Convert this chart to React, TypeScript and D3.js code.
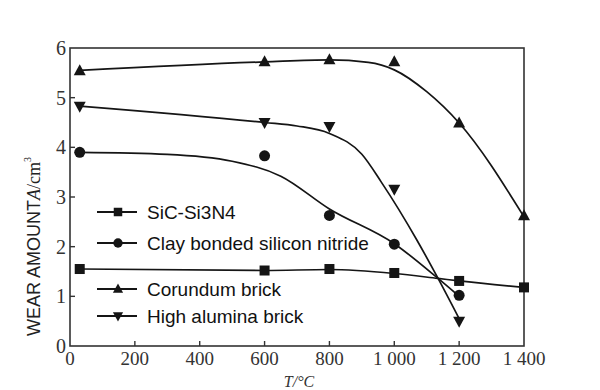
import React from "react";
import * as d3 from "d3";

const W = 600;
const H = 390;

const temps = [30, 600, 800, 1000, 1200, 1400];
const sicValues = [1.55, 1.52, 1.55, 1.47, 1.31, 1.18];
const clayTemps = [30, 600, 800, 1000, 1200];
const clayValues = [3.9, 3.83, 2.63, 2.05, 1.02];
const corundumTemps = [30, 600, 800, 1000, 1200, 1400];
const corundumValues = [5.54, 5.72, 5.76, 5.72, 4.49, 2.62];
const aluminaTemps = [30, 600, 800, 1000, 1200];
const aluminaValues = [4.83, 4.5, 4.42, 3.16, 0.5];

// fitted curve knots
const sicFitT = [30, 600, 800, 1000, 1135, 1200, 1400];
const sicFitV = [1.55, 1.52, 1.54, 1.46, 1.36, 1.31, 1.18];
const clayFitT = [30, 300, 500, 650, 800, 1000, 1135, 1200];
const clayFitV = [3.9, 3.86, 3.72, 3.42, 2.76, 2.06, 1.36, 1.0];
const corFitT = [30, 600, 800, 920, 1000, 1100, 1200, 1400];
const corFitV = [5.55, 5.72, 5.76, 5.71, 5.56, 5.12, 4.49, 2.6];
const aluFitT = [30, 600, 700, 800, 900, 960, 1070, 1135, 1200];
const aluFitV = [4.83, 4.5, 4.43, 4.28, 3.86, 3.3, 2.13, 1.36, 0.55];

const xTicks = [0, 200, 400, 600, 800, 1000, 1200, 1400];
const xTickLabels = ["0", "200", "400", "600", "800", "1 000", "1 200", "1 400"];
const yTicks = [0, 1, 2, 3, 4, 5, 6];

const legendLabels = [
  "SiC-Si3N4",
  "Clay bonded silicon nitride",
  "Corundum brick",
  "High alumina brick",
];
const legendMarkers = ["square", "circle", "up", "down"];
const legendY = [212, 243, 289, 316];

const INK = "#151515";

function Marker({ type, x, y, s = 1 }: { type: string; x: number; y: number; s?: number }) {
  if (type === "square") {
    const a = 10 * s;
    return <rect x={x - a / 2} y={y - a / 2} width={a} height={a} fill={INK} />;
  }
  if (type === "circle") {
    return <circle cx={x} cy={y} r={5.5 * s} fill={INK} />;
  }
  const h = 11 * s;
  const w = 12 * s;
  if (type === "up") {
    return (
      <path
        d={`M${x},${y - h * 0.6} L${x + w / 2},${y + h * 0.4} L${x - w / 2},${y + h * 0.4} Z`}
        fill={INK}
      />
    );
  }
  return (
    <path
      d={`M${x},${y + h * 0.6} L${x + w / 2},${y - h * 0.4} L${x - w / 2},${y - h * 0.4} Z`}
      fill={INK}
    />
  );
}

export default function App() {
  const x = d3.scaleLinear().domain([0, 1400]).range([70, 524]);
  const y = d3.scaleLinear().domain([0, 6]).range([346, 48]);

  const line = d3
    .line<[number, number]>()
    .x((d) => x(d[0]))
    .y((d) => y(d[1]))
    .curve(d3.curveMonotoneX);

  const zip = (a: number[], b: number[]) => a.map((t, i) => [t, b[i]] as [number, number]);

  const fits = [
    zip(sicFitT, sicFitV),
    zip(clayFitT, clayFitV),
    zip(corFitT, corFitV),
    zip(aluFitT, aluFitV),
  ];
  const series = [
    { pts: zip(temps, sicValues), m: "square" },
    { pts: zip(clayTemps, clayValues), m: "circle" },
    { pts: zip(corundumTemps, corundumValues), m: "up" },
    { pts: zip(aluminaTemps, aluminaValues), m: "down" },
  ];

  const [x0, x1] = x.range();
  const [yb, yt] = y.range();

  return (
    <svg
      width={W}
      height={H}
      style={{ position: "absolute", left: 0, top: 0, background: "#fff" }}
      xmlns="http://www.w3.org/2000/svg"
    >
      <rect x={0} y={0} width={W} height={H} fill="#fff" />
      {/* frame */}
      <rect x={x0} y={yt} width={x1 - x0} height={yb - yt} fill="none" stroke="#333" strokeWidth={1.6} />
      {/* x ticks */}
      {xTicks.map((t, i) => (
        <g key={"xt" + i}>
          {t > 0 && t < 1400 && (
            <line x1={x(t)} x2={x(t)} y1={yb} y2={yb - 5} stroke="#333" strokeWidth={1.4} />
          )}
          <text
            x={x(t)}
            y={yb + 19}
            textAnchor="middle"
            fontFamily="'Liberation Serif', 'DejaVu Serif', serif"
            fontSize={19}
            fill="#333"
          >
            {xTickLabels[i]}
          </text>
        </g>
      ))}
      {/* y ticks */}
      {yTicks.map((t, i) => (
        <g key={"yt" + i}>
          {t > 0 && t < 6 && (
            <line x1={x0} x2={x0 + 5} y1={y(t)} y2={y(t)} stroke="#333" strokeWidth={1.4} />
          )}
          <text
            x={x0 - 4}
            y={y(t) + 7}
            textAnchor="end"
            fontFamily="'Liberation Serif', 'DejaVu Serif', serif"
            fontSize={20}
            fill="#333"
          >
            {t}
          </text>
        </g>
      ))}
      {/* fitted curves */}
      {fits.map((f, i) => (
        <path key={"f" + i} d={line(f) || ""} fill="none" stroke={INK} strokeWidth={1.7} />
      ))}
      {/* markers */}
      {series.map((s, i) =>
        s.pts.map((p, j) => <Marker key={`m${i}-${j}`} type={s.m} x={x(p[0])} y={y(p[1])} />)
      )}
      {/* legend */}
      {legendLabels.map((lab, i) => (
        <g key={"lg" + i}>
          <line x1={97} x2={137} y1={legendY[i]} y2={legendY[i]} stroke={INK} strokeWidth={1.8} />
          <Marker type={legendMarkers[i]} x={118} y={legendY[i]} s={0.85} />
          <text
            x={147}
            y={legendY[i] + 7}
            fontFamily="'Liberation Sans', Arial, sans-serif"
            fontSize={19}
            fill="#111"
          >
            {lab}
          </text>
        </g>
      ))}
      {/* y title */}
      <g transform="translate(40,336) rotate(-90)">
        <text fontSize={18} fill="#222">
          <tspan fontFamily="'Liberation Sans', Arial, sans-serif">WEAR AMOUNT</tspan>
          <tspan fontFamily="'Liberation Serif', serif" fontStyle="italic">A</tspan>
          <tspan fontFamily="'Liberation Serif', serif">/cm</tspan>
          <tspan fontFamily="'Liberation Serif', serif" fontSize={10} dy={-9}>3</tspan>
        </text>
      </g>
      {/* x title */}
      <text
        x={299}
        y={387}
        textAnchor="middle"
        fontFamily="'Liberation Serif', serif"
        fontStyle="italic"
        fontSize={16}
        fill="#333"
      >
        T/°C
      </text>
    </svg>
  );
}
